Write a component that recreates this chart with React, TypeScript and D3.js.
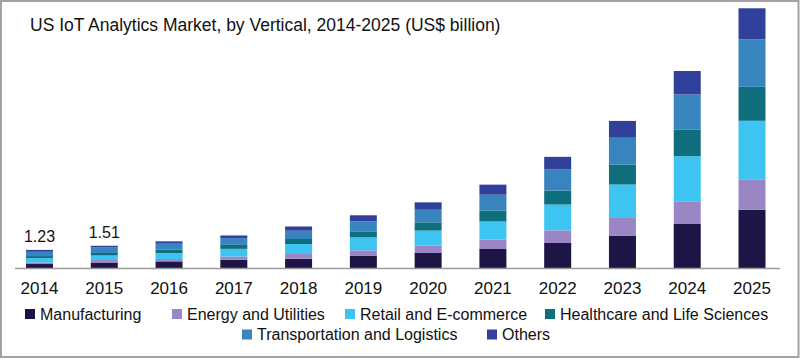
import React from "react";
import * as d3 from "d3";

const years = ["2014","2015","2016","2017","2018","2019","2020","2021","2022","2023","2024","2025"];
const seriesNames = ["Manufacturing","Energy and Utilities","Retail and E-commerce","Healthcare and Life Sciences","Transportation and Logistics","Others"];
const manufacturing = [0.27,0.37,0.45,0.56,0.63,0.82,1.02,1.29,1.70,2.20,2.99,3.95];
const energy = [0.11,0.17,0.16,0.22,0.32,0.38,0.50,0.63,0.86,1.20,1.54,2.04];
const retail = [0.30,0.31,0.41,0.52,0.68,0.88,1.02,1.24,1.75,2.27,3.06,4.01];
const healthcare = [0.13,0.17,0.22,0.27,0.34,0.41,0.56,0.75,0.95,1.36,1.82,2.31];
const transport = [0.29,0.37,0.41,0.46,0.56,0.68,0.86,1.07,1.43,1.82,2.38,3.22];
const others = [0.13,0.12,0.16,0.18,0.29,0.41,0.50,0.68,0.86,1.14,1.59,2.11];
const totalLabels = ["1.23","1.51","","","","","","","","","",""];
const colors = ["#1d1545","#9a86c4","#3dc4f1","#0e6e7c","#3784bf","#30409b"];

const W = 800, H = 359;
const font = "'Liberation Sans', Arial, sans-serif";

export default function App() {
  const values = [manufacturing, energy, retail, healthcare, transport, others];
  const rows = years.map((y, i) => {
    const r: any = { year: y };
    seriesNames.forEach((s, k) => (r[s] = values[k][i]));
    return r;
  });
  const stacked = d3.stack().keys(seriesNames)(rows);
  const totals = years.map((_, i) => d3.sum(values, (v) => v[i]));
  const x = d3.scalePoint().domain(years).range([39.5, 752]);
  const y = d3.scaleLinear().domain([0, d3.max(totals) as number]).range([268, 8.3]);
  const bw = 27;

  const legendRows = [
    [ { i: 0, x: 25 }, { i: 1, x: 172 }, { i: 2, x: 345 }, { i: 3, x: 545 } ],
    [ { i: 4, x: 242 }, { i: 5, x: 487 } ],
  ];
  const legendY = [319.5, 340];

  return (
    <svg width={W} height={H} style={{ position: "absolute", left: 0, top: 0, background: "#fff" }} fontFamily={font}>
      <rect x={1} y={1} width={W - 2.5} height={356} fill="#fff" stroke="#a3a3a3" strokeWidth={2} />
      <text x={30} y={31} fontSize={17.5} fill="#111">US IoT Analytics Market, by Vertical, 2014-2025 (US$ billion)</text>
      {stacked.map((layer, k) => (
        <g key={k} fill={colors[k]}>
          {layer.map((d, i) => (
            <rect key={i} x={(x(years[i]) as number) - bw / 2} y={y(d[1])} width={bw} height={y(d[0]) - y(d[1])} />
          ))}
        </g>
      ))}
      <line x1={15} x2={780} y1={268.5} y2={268.5} stroke="#9a9a9a" strokeWidth={1.5} />
      {years.map((yr, i) => (
        <text key={yr} x={x(yr)} y={293.5} fontSize={17} textAnchor="middle" fill="#111">{yr}</text>
      ))}
      {totalLabels.map((t, i) => t ? (
        <text key={i} x={x(years[i])} y={y(totals[i]) - 8} fontSize={16} textAnchor="middle" fill="#111">{t}</text>
      ) : null)}
      {legendRows.map((row, r) => (
        <g key={r}>
          {row.map((it) => (
            <g key={it.i}>
              <rect x={it.x} y={legendY[r] - 10.5} width={10} height={10} fill={colors[it.i]} />
              <text x={it.x + 15} y={legendY[r]} fontSize={16} fill="#111">{seriesNames[it.i]}</text>
            </g>
          ))}
        </g>
      ))}
    </svg>
  );
}
